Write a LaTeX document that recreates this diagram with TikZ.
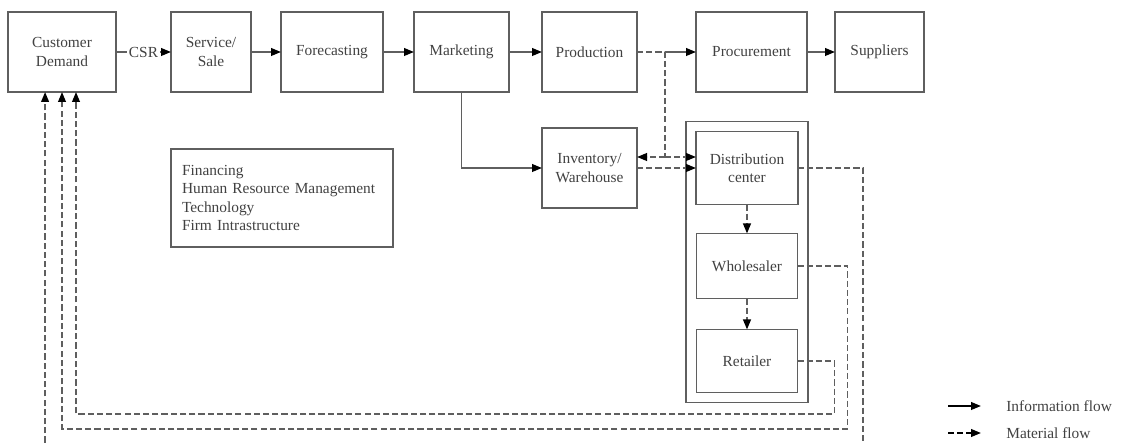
\documentclass[tikz,border=0pt]{standalone}
\usepackage{fontspec}
\setmainfont{Liberation Serif}
\usetikzlibrary{positioning, arrows.meta, fit}
\definecolor{linegray}{RGB}{95,95,95}
\definecolor{textgray}{RGB}{65,65,65}

\begin{document}
\begin{tikzpicture}[>={Triangle[length=6.5pt,width=5pt,color=black]}, every node/.style={font=\fontsize{10}{12}\selectfont, text=textgray},
    box/.style={draw=linegray, line width=1.2pt, minimum height=52pt, inner sep=2pt, outer sep=0pt, align=center},
    info/.style={draw=linegray, line width=1.2pt, ->},
    matflow/.style={draw=linegray, line width=1.2pt, dash pattern=on 4pt off 2pt, ->}]
        \useasboundingbox (0,0) rectangle (736.45pt,-287.95pt);
        \clip (0,0) rectangle (736.45pt,-287.95pt);

        % Value chain
        \node[box, minimum width=70.2pt] (cd) at (40.3pt,-33.8pt) {Customer\\Demand};
        \node[box, minimum width=52pt, right=35.75pt of cd] (svc) {Service/\\Sale};
        \node[box, minimum width=66.3pt, right=19.5pt of svc] (fcst) {Forecasting};
        \node[box, minimum width=61.75pt, right=20.15pt of fcst] (mkt) {Marketing};
        \node[box, minimum width=61.75pt, right=21.45pt of mkt] (prod) {Production};
        \node[box, minimum width=72.15pt, right=38.35pt of prod] (proc) {Procurement};
        \node[box, minimum width=57.85pt, right=18.2pt of proc] (supp) {Suppliers};

        % Storage and channel
        \node[box, minimum width=61.75pt, below=23.4pt of prod] (inv) {Inventory/\\Warehouse};
        \node[box, minimum width=66.3pt, minimum height=47.45pt, right=38.35pt of inv] (dc) {Distribution\\center};
        \node[box, minimum width=65.65pt, minimum height=42.25pt, below=18.85pt of dc] (wh) {Wholesaler};
        \node[box, minimum width=65.65pt, minimum height=40.95pt, below=20.15pt of wh] (rt) {Retailer};
        \node[draw=linegray, line width=1.2pt, inner sep=6.5pt, fit=(dc)(wh)(rt)] (channel) {};

        % Support activities
        \node[box, text width=130pt, align=left, inner sep=7pt, minimum height=63.7pt] (support) at (183.3pt,-128.7pt) {Financing\\Human Resource Management\\Technology\\Firm Intrastructure};

        % Information flow
        \draw[info] (cd) -- node[fill=white, inner sep=1pt] (csr) {CSR} (svc);
        \draw[info] (svc) -- (fcst);
        \draw[info] (fcst) -- (mkt);
        \draw[info] (mkt) -- (prod);
        \coordinate (split) at ([xshift=18.2pt]prod.east);
        \draw[info] (split) -- (proc);
        \draw[info] (proc) -- (supp);
        \draw[info] (mkt) |- (inv);

        % Material flow
        \path (inv.east) ++(0,7.15pt) coordinate (fork0);
        \coordinate (fork) at (split |- fork0);
        \draw[matflow, -] (prod.east) -- (split) -- (fork);
        \draw[matflow] (fork) -- (fork -| inv.east);
        \draw[matflow] (fork) -- (fork -| dc.west);
        \draw[matflow] (inv) -- (dc);
        \draw[matflow] (dc) -- (wh);
        \draw[matflow] (wh) -- (rt);

        % Back to the customer
        \coordinate (laneR) at (0,-269.1pt);
        \coordinate (laneW) at (0,-278.85pt);
        \coordinate (laneD) at (0,-292.5pt);
        \draw[matflow] (rt.east) -- ++(24.05pt,0) coordinate (rtturn) -- (rtturn |- laneR) -| ([xshift=9.1pt]cd.south);
        \draw[matflow] (wh.east) -- ++(32.5pt,0) coordinate (whturn) -- (whturn |- laneW) -| (cd.south);
        \draw[matflow] (dc.east) -- ++(42.25pt,0) coordinate (dcturn) -- (dcturn |- laneD) -| ([xshift=-11pt]cd.south);

        % Legend
        \node[anchor=west] (infolab) at (650.6pt,-263.9pt) {Information flow};
        \node[anchor=west] (matlab) at (650.6pt,-281.45pt) {Material flow};
        \coordinate (infostart) at (616.2pt,-263.9pt);
        \coordinate (infoend) at (637.65pt,-263.9pt);
        \coordinate (matstart) at (616.2pt,-281.45pt);
        \coordinate (matend) at (637.65pt,-281.45pt);
        \draw[info, draw=black] (infostart) -- (infoend);
        \draw[matflow, draw=black] (matstart) -- (matend);
\end{tikzpicture}
\end{document}
